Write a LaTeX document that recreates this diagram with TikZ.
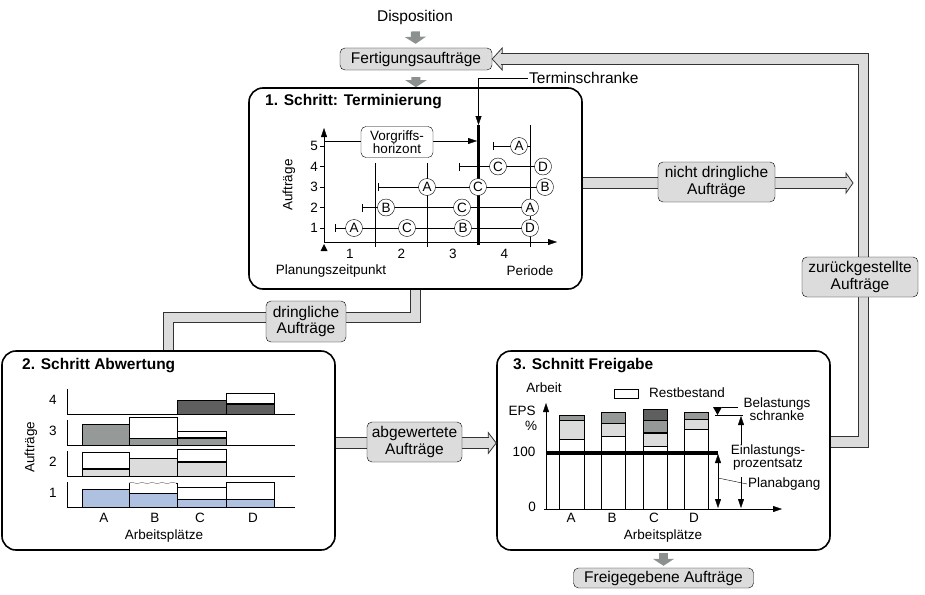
\documentclass[tikz,border=0pt]{standalone}
\usepackage{fontspec}
\setmainfont{Liberation Sans}
\usetikzlibrary{arrows.meta}
\usetikzlibrary{decorations.pathmorphing}
\definecolor{boxgray}{HTML}{DCDCDC}
\definecolor{arrowgray}{HTML}{8C918F}
\definecolor{darkbar}{HTML}{5F5F5F}
\definecolor{midbar}{HTML}{959A98}
\definecolor{lightbar}{HTML}{DCDCDC}
\definecolor{bluebar}{HTML}{AEC1E0}
\begin{document}
\begin{tikzpicture}[x=1pt,y=-1pt,font=\fontsize{15.5}{16.5}\selectfont,inner sep=1pt,
    stepbox/.style={draw,line width=1.6pt,rounded corners=14pt,fill=white,minimum width=333pt},
    title/.style={font=\fontsize{15.5}{17}\selectfont\bfseries,anchor=west},
    tag/.style={draw,fill=boxgray,rounded corners=5pt,align=center},
    pipe/.style={draw=black!80,line width=0.8pt,double=boxgray,double distance=9.5pt},
    pipehead/.style={draw=black!80,line width=0.8pt,fill=boxgray},
    smallarrow/.style={draw=arrowgray,line width=9pt,-{Triangle[length=7pt,width=21pt]}},
    chart/.style={font=\fontsize{13.5}{13.5}\selectfont},
    order/.style={circle,draw,fill=white,minimum size=17pt,inner sep=0pt,chart},
    hbox/.style={draw,fill=white,rounded corners=5pt,align=center,chart},
    axis/.style={-{Triangle[length=9pt,width=6pt]}}]
    \useasboundingbox (0,0) rectangle (925,594);
    \node[stepbox,minimum height=201pt] (s1) at (415.5,188.5) {};
    \node[stepbox,minimum height=199pt] (s2) at (168.5,450.5) {};
    \node[stepbox,minimum height=199pt] (s3) at (663.5,450.5) {};
    \node (disp) at (415,17) {Disposition};
    \node[tag,minimum width=152pt,minimum height=22pt] (fert) at (416,59) {Fertigungsaufträge};
    \node[tag,minimum width=180pt,minimum height=20pt] (frei) at (663.5,578) {Freigegebene Aufträge};
    \draw[smallarrow,shorten <=6pt,shorten >=4pt] (disp) -- (fert);
    \draw[smallarrow,shorten <=7pt] (fert) -- (s1);
    \draw[smallarrow,shorten <=2pt,shorten >=2pt] (s3) -- (frei);
    % broad arrows
    \coordinate (ndtip) at (853,183);
    \coordinate (abtip) at ([yshift=7.5pt]s3.west);
    \filldraw[pipehead] (fert.east) -- ++(10,-11) -- ++(0,22) -- cycle;
    \draw[pipe,shorten >=9pt] ([yshift=8.5pt]s3.east) -- ++(32.5,0) |- (fert.east);
    \filldraw[pipehead] (ndtip) -- ++(-7,-10) -- ++(0,20) -- cycle;
    \draw[pipe,shorten >=6pt] ([yshift=5.5pt]s1.east) -- (ndtip);
    \filldraw[pipehead] (abtip) -- ++(-8,-10.5) -- ++(0,21) -- cycle;
    \draw[pipe,shorten >=7pt] ([yshift=7.5pt]s2.east) -- (abtip);
    \draw[pipe] (s1.south) -- ++(0,27.5) -| (s2.north);
    \node[tag,minimum width=117pt,minimum height=40pt] (nd) at (716.5,182) {nicht dringliche\\Aufträge};
    \node[tag,minimum width=116pt,minimum height=40pt] (zu) at (860,277) {zurückgestellte\\Aufträge};
    \node[tag,minimum width=80pt,minimum height=41pt] (dr) at (306,321.5) {dringliche\\Aufträge};
    \node[tag,minimum width=95pt,minimum height=40pt] (ab) at (414.5,442) {abgewertete\\Aufträge};
    \node[title] (t1) at (264,102) {1. Schritt: Terminierung};
    \node[title] (t2) at (21,366) {2. Schritt Abwertung};
    \node[title] (t3) at (512,366) {3. Schnitt Freigabe};
    % 1. Schritt
    \draw[axis] (324,242) -- (324,128);
    \draw[axis] (324,242) -- (557,242);
    \fill (324,244) -- (327.5,251) -- (320.5,251) -- cycle;
    \foreach \x in {375.5,427} \draw (\x,163) -- (\x,247);
    \draw (530.5,125) -- (530.5,247);
    \coordinate (tk) at (478.5,125);
    \draw[line width=3pt] (tk) -- (478.5,245);
    \node[anchor=west] (ts) at (528,78) {Terminschranke};
    \draw[axis] (ts.west) -| (tk);
    \coordinate (vs) at (324,141);
    \coordinate (ve) at (477,141);
    \draw[axis] (vs) -- (ve);
    \node[hbox,minimum width=72pt,minimum height=31pt] (vh) at (397,142) {Vorgriffs-\\horizont};
    \foreach \k in {1,...,5} {
      \node[chart,anchor=east] (y\k) at (319,{248.5-20.5*\k}) {\k};
      \draw (320,{248.5-20.5*\k}) -- (324,{248.5-20.5*\k});
    }
    \foreach \i in {1,...,4} \node[chart] (x\i) at ({298.25+51.5*\i},254) {\i};
    \foreach \k/\xs/\xe/\ords in {1/335/530/{354/A,407/C,463/B,530/D},
        2/362/530/{386/B,462/C,530/A}, 3/378/545/{427/A,478/C,545/B},
        4/459/543/{498/C,543/D}, 5/493/531/{519/A}} {
      \coordinate (s\k) at (\xs,{248.5-20.5*\k});
      \coordinate (e\k) at (\xe,{248.5-20.5*\k});
      \draw[{Bar[width=8pt]}-] (s\k) -- (e\k);
      \foreach \x/\l in \ords
        \node[order] (o\k\l) at (\x,{248.5-20.5*\k}) {\l};
    }
    \node[chart,rotate=90] (au1) at (289,185) {Aufträge};
    \node[chart] (pz) at (331,271) {Planungszeitpunkt};
    \node[chart] (pe) at (530,271) {Periode};
    % 2. Schritt
    \foreach \r/\yt/\yb in {4/389/414,3/420/445,2/451/476,1/482/507} {
      \draw (67,\yt) -- (67,\yb) -- (295,\yb);
      \node[chart] (r\r) at (53,\yb-14) {\r};
    }
    \foreach \xa/\xb/\yb/\yw/\yf/\col/\lw in {
        177/226/414/400/400/darkbar/0.8pt, 226/274/414/393/404/darkbar/2.2pt,
        82/129/445/424/424/midbar/0.8pt, 129/177/445/417/438/midbar/0.8pt, 177/226/445/431/438/midbar/2.2pt,
        82/129/476/452/469/lightbar/2.2pt, 129/177/476/458/458/lightbar/0.8pt, 177/226/476/449/462/lightbar/2.2pt,
        82/129/507/489/489/bluebar/0.8pt, 129/177/507/483/493/bluebar/0.8pt,
        177/226/507/487/499/bluebar/0.8pt, 226/274/507/482/499/bluebar/0.8pt} {
      \draw[fill=white] (\xa,\yw) rectangle (\xb,\yb);
      \draw[fill=\col] (\xa,\yf) rectangle (\xb,\yb);
      \draw[line width=\lw] (\xa,\yf) -- (\xb,\yf);
    }
    \draw[white,line width=1.6pt] (129.8,483) -- (176.2,483);
    \draw[black!60,decorate,decoration={snake,amplitude=0.8pt,segment length=10pt}] (129,483) -- (177,483);
    \foreach \c/\x in {A/104,B/155,C/200,D/253} \node[chart] (w\c) at (\x,518) {\c};
    \node[chart] (ap2) at (164,536) {Arbeitsplätze};
    \node[chart,rotate=90] (au2) at (31,447) {Aufträge};
    % 3. Schnitt
    \draw[axis] (546,509) -- (546,403);
    \draw[axis] (544,509) -- (782,509);
    \foreach \xa/\xb/\yw/\yl/\ym/\yd in {559/584/439/420/415/415, 601/625/436/423/412/412,
        643/667/446/433/420/409, 684/708/429/419/412/412} {
      \draw[fill=white] (\xa,\yw) rectangle (\xb,509);
      \draw[fill=lightbar] (\xa,\yl) rectangle (\xb,\yw);
      \draw[fill=midbar] (\xa,\ym) rectangle (\xb,\yl);
      \draw[fill=darkbar] (\xa,\yd) rectangle (\xb,\ym);
    }
    \draw[line width=2pt] (643,433) -- (667,433);
    \draw[line width=4pt] (546,453) -- (718,453);
    \node[chart] (arb) at (544,388) {Arbeit};
    \node[chart] (eps) at (522,411) {EPS};
    \node[chart] (pc) at (531,426) {\%};
    \node[chart] (h100) at (524,452) {100};
    \node[chart] (n0) at (532,507) {0};
    \foreach \c/\x in {A/571,B/612,C/654,D/694} \node[chart] (v\c) at (\x,518) {\c};
    \node[chart] (ap3) at (663,536) {Arbeitsplätze};
    \node[draw,minimum width=24pt,minimum height=9pt,inner sep=0pt] (lg) at (626,393.5) {};
    \node[chart,anchor=west] (rb) at (648,393) {Restbestand};
    \fill (713,407) -- (722,407) -- (717.5,415) -- cycle;
    \draw (722,407) -- (738,407);
    \draw (715,415) -- (743,415);
    \node[chart,align=center] (bl) at (777,409) {Belastungs\\schranke};
    \node[chart,align=center] (el) at (768,457.5) {Einlastungs-\\prozentsatz};
    \coordinate (e1) at (741,445);
    \coordinate (e2) at (741,416);
    \coordinate (e3) at (741,477);
    \coordinate (e4) at (741,508);
    \draw[axis] (e1) -- (e2);
    \draw[axis] (e3) -- (e4);
    \coordinate (p1) at (718,454);
    \coordinate (p2) at (718,508);
    \coordinate (p3) at (718,478);
    \draw[{Triangle[length=9pt,width=6pt]}-{Triangle[length=9pt,width=6pt]}] (p1) -- (p2);
    \node[chart,anchor=west] (pa) at (747,484) {Planabgang};
    \draw (p3) -- (pa.west);
\end{tikzpicture}
\end{document}
